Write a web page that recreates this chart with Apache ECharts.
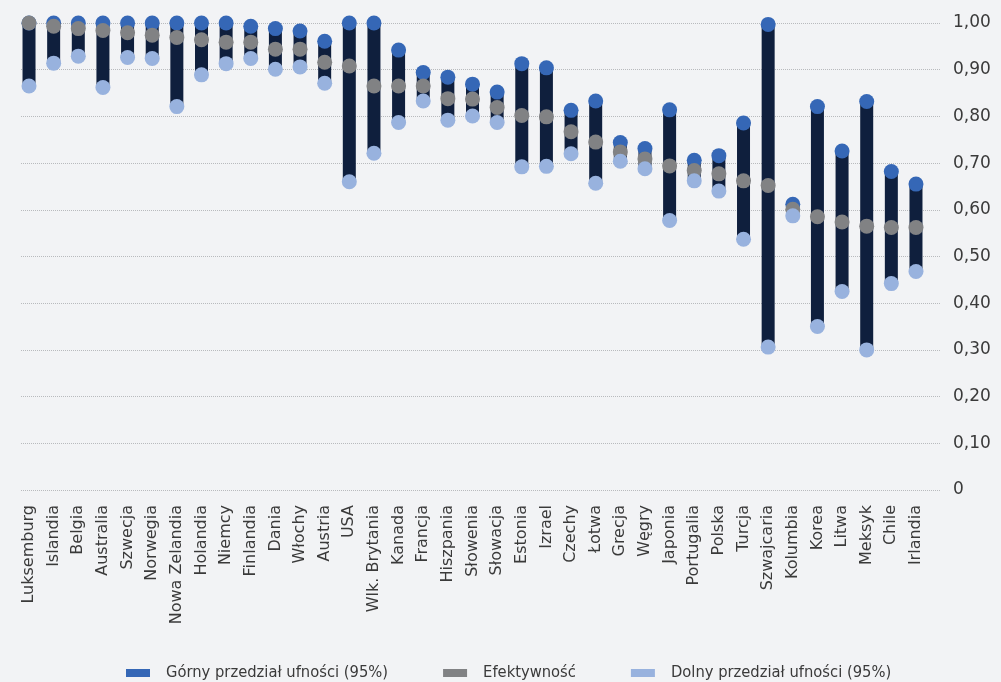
<!DOCTYPE html>
<html lang="pl">
<head>
<meta charset="utf-8">
<title>Efektywność – przedziały ufności</title>
<script src="https://cdn.jsdelivr.net/npm/echarts@6/dist/echarts.min.js"></script>
<style>
  html, body { margin: 0; padding: 0; background: #f2f3f5; }
  #chart { width: 1001px; height: 682px; }
</style>
</head>
<body>
<div id="chart"></div>
<script>
// Countries, ordered by efficiency score
const categories = [
  'Luksemburg', 'Islandia', 'Belgia', 'Australia', 'Szwecja', 'Norwegia',
  'Nowa Zelandia', 'Holandia', 'Niemcy', 'Finlandia', 'Dania', 'Włochy',
  'Austria', 'USA', 'Wlk. Brytania', 'Kanada', 'Francja', 'Hiszpania',
  'Słowenia', 'Słowacja', 'Estonia', 'Izrael', 'Czechy', 'Łotwa', 'Grecja',
  'Węgry', 'Japonia', 'Portugalia', 'Polska', 'Turcja', 'Szwajcaria',
  'Kolumbia', 'Korea', 'Litwa', 'Meksyk', 'Chile', 'Irlandia'
];

// Upper bound of the 95% confidence interval
const upper = [
  1.000, 1.000, 1.000, 1.000, 1.000, 1.000,
  1.000, 1.000, 1.000, 0.993, 0.988, 0.983,
  0.961, 1.000, 1.000, 0.942, 0.894, 0.884,
  0.869, 0.852, 0.913, 0.904, 0.813, 0.833, 0.744,
  0.731, 0.814, 0.706, 0.716, 0.786, 0.997,
  0.612, 0.821, 0.726, 0.832, 0.682, 0.655
];

// Efficiency score
const efficiency = [
  1.000, 0.993, 0.988, 0.984, 0.979, 0.974,
  0.969, 0.964, 0.959, 0.959, 0.944, 0.944,
  0.916, 0.908, 0.865, 0.865, 0.865, 0.838,
  0.837, 0.819, 0.802, 0.799, 0.767, 0.745, 0.724,
  0.709, 0.694, 0.684, 0.677, 0.662, 0.652,
  0.601, 0.585, 0.574, 0.565, 0.562, 0.562
];

// Lower bound of the 95% confidence interval
const lower = [
  0.865, 0.914, 0.929, 0.862, 0.926, 0.924,
  0.821, 0.889, 0.913, 0.924, 0.901, 0.906,
  0.871, 0.660, 0.721, 0.787, 0.833, 0.792,
  0.801, 0.787, 0.692, 0.693, 0.720, 0.657, 0.704,
  0.688, 0.577, 0.662, 0.640, 0.537, 0.306,
  0.587, 0.350, 0.425, 0.300, 0.442, 0.468
];

// Value axis tick labels (0 to 1 in steps of 0.1)
const yTicks = ['0', '0,10', '0,20', '0,30', '0,40', '0,50', '0,60', '0,70', '0,80', '0,90', '1,00'];

const seriesNames = ['Górny przedział ufności (95%)', 'Efektywność', 'Dolny przedział ufności (95%)'];
const colors = { upper: '#3567b6', eff: '#818284', lower: '#98b2de', range: '#0f1f3d' };

const chart = echarts.init(document.getElementById('chart'), null, { renderer: 'canvas' });

const rangeData = categories.map((c, i) => [i, lower[i], upper[i]]);

chart.setOption({
  backgroundColor: '#f2f3f5',
  animation: false,
  textStyle: { fontFamily: 'DejaVu Sans' },
  grid: [
    // grid 0: gridlines and value labels
    { left: 21, right: 60, top: 23, bottom: 192 },
    // grid 1: the data
    { left: 16.7, right: 72.7, top: 23, bottom: 192 }
  ],
  legend: {
    data: seriesNames,
    left: 126,
    top: 665,
    padding: 0,
    icon: 'rect',
    itemWidth: 24,
    itemHeight: 8,
    itemGap: 55,
    textStyle: {
      fontFamily: 'DejaVu Sans Condensed',
      fontSize: 16.4,
      color: '#3a3a3a',
      padding: [0, 0, 0, 11]
    },
    selectedMode: false
  },
  xAxis: [
    { gridIndex: 0, type: 'value', min: 0, max: 1, show: false },
    {
      gridIndex: 1,
      type: 'category',
      data: categories,
      boundaryGap: true,
      axisLine: { show: false },
      axisTick: { show: false },
      axisLabel: {
        rotate: 90,
        interval: 0,
        margin: 15,
        fontSize: 16,
        color: '#3a3a3a',
        fontFamily: 'DejaVu Sans'
      }
    }
  ],
  yAxis: [
    {
      gridIndex: 0,
      type: 'value',
      position: 'right',
      min: 0,
      max: 1,
      interval: 0.1,
      axisLine: { show: false },
      axisTick: { show: false },
      splitLine: { show: true, lineStyle: { color: '#b8babd', type: 'dotted', width: 1 } },
      axisLabel: {
        margin: 12,
        fontSize: 17,
        color: '#3a3a3a',
        fontFamily: 'DejaVu Sans',
        formatter: (v) => yTicks[Math.round(v * 10)]
      }
    },
    {
      gridIndex: 1,
      type: 'value',
      min: 0,
      max: 1,
      show: false
    }
  ],
  series: [
    {
      type: 'custom',
      name: 'range',
      xAxisIndex: 1,
      yAxisIndex: 1,
      data: rangeData,
      renderItem: function (params, api) {
        const lo = api.coord([api.value(0), api.value(1)]);
        const hi = api.coord([api.value(0), api.value(2)]);
        const w = 13;
        return {
          type: 'rect',
          shape: { x: lo[0] - w / 2, y: hi[1], width: w, height: lo[1] - hi[1] },
          style: { fill: colors.range }
        };
      },
      z: 1
    },
    {
      type: 'scatter',
      name: seriesNames[0],
      xAxisIndex: 1,
      yAxisIndex: 1,
      data: upper,
      symbolSize: 15,
      itemStyle: { color: colors.upper, opacity: 1 },
      z: 2
    },
    {
      type: 'scatter',
      name: seriesNames[1],
      xAxisIndex: 1,
      yAxisIndex: 1,
      data: efficiency,
      symbolSize: 15,
      itemStyle: { color: colors.eff, opacity: 1 },
      z: 3
    },
    {
      type: 'scatter',
      name: seriesNames[2],
      xAxisIndex: 1,
      yAxisIndex: 1,
      data: lower,
      symbolSize: 15,
      itemStyle: { color: colors.lower, opacity: 1 },
      z: 4
    }
  ]
});
</script>
</body>
</html>
